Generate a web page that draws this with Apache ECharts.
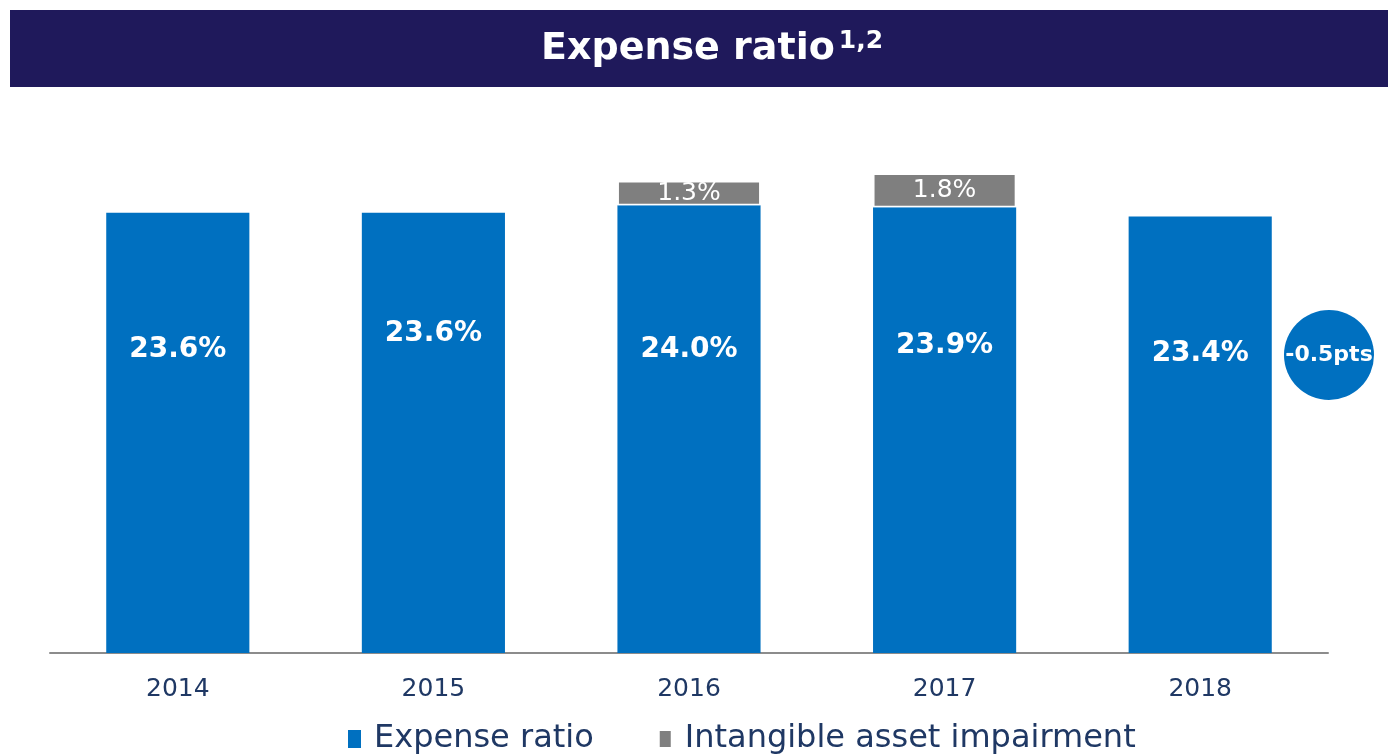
<!DOCTYPE html>
<html><head><meta charset="utf-8">
<script src="https://cdn.jsdelivr.net/npm/echarts@6/dist/echarts.min.js"></script>
<style>html,body{margin:0;padding:0;background:#fff}#c{width:1388px;height:754px}</style>
</head><body><div id="c"></div>
<script>
const categories = ['2014','2015','2016','2017','2018'];
const expenseRatio = [23.6, 23.6, 24.0, 23.9, 23.4];
const impairment = [null, null, 1.3, 1.8, null];
const changeLabel = '-0.5pts';

// label vertical nudges (styling only)
const labelNudge = [0, -16, 6, 0, 2];

const chart = echarts.init(document.getElementById('c'));
const FONT = '"DejaVu Sans", sans-serif';
chart.setOption({
  animation: false,
  textStyle: {fontFamily: FONT},
  grid: {left: 50, right: 60, top: 168, bottom: 101},
  graphic: [
    {type: 'rect', shape: {x: 10, y: 10, width: 1378, height: 77}, style: {fill: '#1f195b'}, z: 0},
    {type: 'text', left: 541, top: 29, z: 10, style: {
      rich: {
        a: {fontSize: 38, fontWeight: 'bold', fill: '#fff', fontFamily: FONT},
        s: {fontSize: 25, fontWeight: 'bold', fill: '#fff', fontFamily: FONT, verticalAlign: 'top', padding: [0,0,16,4]}
      },
      text: '{a|Expense ratio}{s|1,2}'
    }},
    {type: 'circle', shape: {cx: 1329, cy: 355, r: 45}, style: {fill: '#0070c0'}, z: 10},
    {type: 'text', x: 1329, y: 355, z: 11, style: {text: changeLabel, fill: '#fff', fontSize: 22, fontWeight: 'bold', fontFamily: FONT, align: 'center', verticalAlign: 'middle'}}
  ],
  legend: {
    bottom: -6, left: 343, itemWidth: 13, itemHeight: 18, itemGap: 64,
    icon: 'rect',
    textStyle: {fontSize: 32, color: '#1f3864', fontFamily: FONT, padding: [0, 0, 0, 8]},
    data: ['Expense ratio', 'Intangible asset impairment']
  },
  xAxis: {
    type: 'category', data: categories,
    axisLine: {lineStyle: {color: '#8c8c8c', width: 2}},
    axisTick: {show: false},
    axisLabel: {fontSize: 25, color: '#1f3864', margin: 24}
  },
  yAxis: {type: 'value', min: 0, max: 26, show: false, splitLine: {show: false}},
  series: [
    {name: 'Expense ratio', type: 'bar', stack: 'a', barWidth: '56%',
     data: expenseRatio.map((v, i) => ({value: v, label: {offset: [0, labelNudge[i]]}})),
     itemStyle: {color: '#0070c0'},
     label: {show: true, position: ['50%', '31%'], align: 'center', verticalAlign: 'middle',
       formatter: p => p.value.toFixed(1) + '%', color: '#fff', fontSize: 28, fontWeight: 'bold'}},
    {name: 'Intangible asset impairment', type: 'bar', stack: 'a', data: impairment, barWidth: '56%',
     itemStyle: {color: '#7f7f7f', borderColor: '#fff', borderWidth: 1.5},
     label: {show: true, position: 'inside', formatter: p => p.value.toFixed(1) + '%', color: '#fff', fontSize: 25}}
  ]
});
</script></body></html>
